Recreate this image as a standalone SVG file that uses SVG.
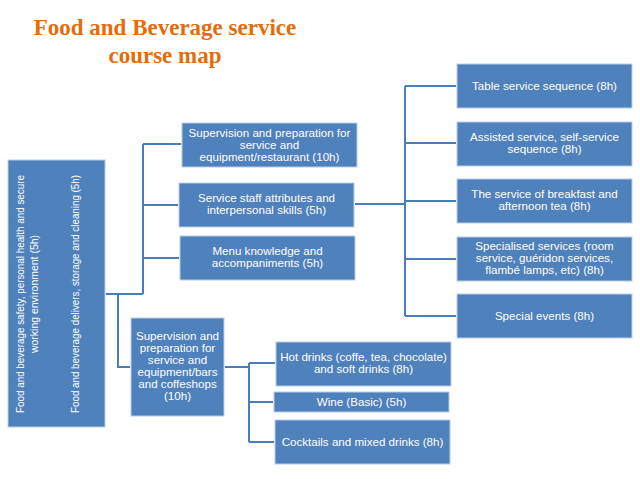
<svg xmlns="http://www.w3.org/2000/svg" width="640" height="479" viewBox="0 0 640 479">
<style>
.box{fill:#4F81BD;stroke:#B9CDE5;stroke-width:1}
.t{fill:#ffffff;font-family:"Liberation Sans",Arial,sans-serif;font-size:11.6px;text-anchor:middle}
.title{fill:#E46C0A;font-family:"Liberation Serif","Times New Roman",serif;font-size:23px;font-weight:bold;text-anchor:middle}
.c{fill:none;stroke:#4A7EBB;stroke-width:2}
</style>
<rect width="640" height="479" fill="#ffffff"/>
<g id="title">
<text class="title" x="165" y="35">Food and Beverage service</text>
<text class="title" x="165" y="63">course map</text>
</g>
<g id="connectors">
<path class="c" d="M106 294 H143 M143 144 V294 M143 144 H181 M143 205 H178 M143 258 H179"/>
<path class="c" d="M118 294 V367 H130"/>
<path class="c" d="M225 367 H249 M249 363 V442 M249 363 H275 M249 402 H273 M249 442 H274"/>
<path class="c" d="M355 204 H405 M405 86 V316 M405 86 H456 M405 143 H456 M405 201 H456 M405 259 H456 M405 316 H456"/>
</g>
<g id="n-left">
<rect class="box" x="8" y="160" width="97" height="267"/>
<text class="t" transform="translate(24,294) rotate(-90)" textLength="238" lengthAdjust="spacingAndGlyphs">Food and beverage safety, personal health and secure</text>
<text class="t" transform="translate(38,294) rotate(-90)" textLength="118" lengthAdjust="spacingAndGlyphs">working environment (5h)</text>
<text class="t" transform="translate(79,294) rotate(-90)" textLength="238" lengthAdjust="spacingAndGlyphs">Food and beverage delivers, storage and cleaning (5h)</text>
</g>
<g id="n-restaurant">
<rect class="box" x="182" y="123" width="175" height="44"/>
<text class="t" x="269.5" y="137">Supervision and preparation for</text>
<text class="t" x="269.5" y="149">service and</text>
<text class="t" x="269.5" y="161">equipment/restaurant (10h)</text>
</g>
<g id="n-staff">
<rect class="box" x="179" y="183" width="175" height="44"/>
<text class="t" x="266.5" y="202">Service staff attributes and</text>
<text class="t" x="266.5" y="214">interpersonal skills (5h)</text>
</g>
<g id="n-menu">
<rect class="box" x="180" y="236" width="175" height="44"/>
<text class="t" x="267.5" y="255">Menu knowledge and</text>
<text class="t" x="267.5" y="267">accompaniments (5h)</text>
</g>
<g id="n-bars">
<rect class="box" x="131" y="318" width="93" height="98"/>
<text class="t" x="177.5" y="340">Supervision and</text>
<text class="t" x="177.5" y="352">preparation for</text>
<text class="t" x="177.5" y="364">service and</text>
<text class="t" x="177.5" y="376">equipment/bars</text>
<text class="t" x="177.5" y="388">and coffeshops</text>
<text class="t" x="177.5" y="400">(10h)</text>
</g>
<g id="n-hot">
<rect class="box" x="276" y="342" width="175" height="44"/>
<text class="t" x="363.5" y="361">Hot drinks (coffe, tea, chocolate)</text>
<text class="t" x="363.5" y="373">and soft drinks (8h)</text>
</g>
<g id="n-wine">
<rect class="box" x="274" y="392" width="175" height="20"/>
<text class="t" x="361.5" y="406">Wine (Basic) (5h)</text>
</g>
<g id="n-cocktails">
<rect class="box" x="275" y="420" width="175" height="44"/>
<text class="t" x="362.5" y="446">Cocktails  and mixed drinks (8h)</text>
</g>
<g id="n-table">
<rect class="box" x="457" y="64" width="175" height="44"/>
<text class="t" x="544.5" y="90">Table service sequence (8h)</text>
</g>
<g id="n-assisted">
<rect class="box" x="457" y="122" width="175" height="44"/>
<text class="t" x="544.5" y="141">Assisted service, self-service</text>
<text class="t" x="544.5" y="153">sequence (8h)</text>
</g>
<g id="n-breakfast">
<rect class="box" x="457" y="179" width="175" height="44"/>
<text class="t" x="544.5" y="198">The service of breakfast and</text>
<text class="t" x="544.5" y="210">afternoon tea (8h)</text>
</g>
<g id="n-specialised">
<rect class="box" x="457" y="237" width="175" height="44"/>
<text class="t" x="544.5" y="250">Specialised services (room</text>
<text class="t" x="544.5" y="262">service, guéridon services,</text>
<text class="t" x="544.5" y="274">flambé lamps, etc) (8h)</text>
</g>
<g id="n-events">
<rect class="box" x="457" y="294" width="175" height="44"/>
<text class="t" x="544.5" y="320">Special events (8h)</text>
</g>
</svg>
